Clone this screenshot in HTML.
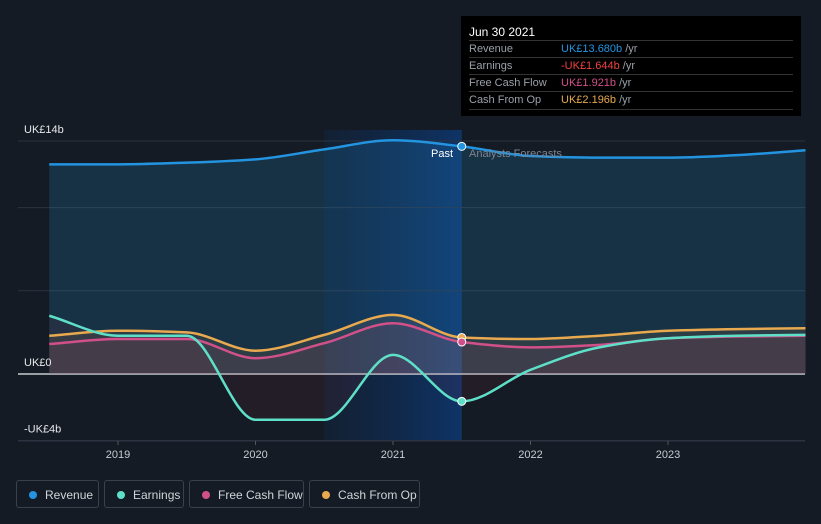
<!DOCTYPE html>
<html><head><meta charset="utf-8"><style>
body{margin:0;background:#151b24;font-family:"Liberation Sans",sans-serif;}
#wrap{position:relative;width:821px;height:524px;overflow:hidden;background:#151b24}
.leg{position:absolute;top:480px;height:28px;border:1px solid #3a414c;border-radius:3px;color:#d0d4da;font-size:12px;line-height:28px;box-sizing:border-box;padding-left:28px}
.leg i{position:absolute;left:12px;top:10px;width:8px;height:8px;border-radius:50%}
.tt{position:absolute;left:461px;top:16px;width:340px;height:100px;background:#000;color:#fff;font-size:11px}
.row{position:absolute;left:8px;width:324px;border-top:1px solid #333;height:17px;line-height:17px;color:#9aa0a8}
.row span{position:absolute;left:92px}
</style></head><body>
<div id="wrap">
<svg id="svg" width="821" height="524" style="position:absolute;left:0;top:0"></svg>
<div class="tt">
 <div style="position:absolute;left:8px;top:9px;font-size:12px">Jun 30 2021</div>
 <div class="row" style="top:24px">Revenue<span><b style="font-weight:normal;color:#2394e0">UK£13.680b</b> /yr</span></div>
 <div class="row" style="top:41px">Earnings<span><b style="font-weight:normal;color:#f0423f">-UK£1.644b</b> /yr</span></div>
 <div class="row" style="top:58px">Free Cash Flow<span><b style="font-weight:normal;color:#d2508a">UK£1.921b</b> /yr</span></div>
 <div class="row" style="top:75px;border-bottom:1px solid #333">Cash From Op<span><b style="font-weight:normal;color:#e8a94f">UK£2.196b</b> /yr</span></div>
</div>
<div class="leg" style="left:16px;width:83px"><i style="background:#2394e0"></i>Revenue</div>
<div class="leg" style="left:104px;width:80px"><i style="background:#5ee0c8"></i>Earnings</div>
<div class="leg" style="left:189px;width:115px"><i style="background:#d2508a"></i>Free Cash Flow</div>
<div class="leg" style="left:309px;width:111px"><i style="background:#e8a94f"></i>Cash From Op</div>
</div>
<script>
const years=[2018.5,2019,2019.5,2020,2020.5,2021,2021.5,2022,2022.5,2023,2023.5,2024];
const revenue=[12.6,12.6,12.7,12.9,13.5,14.05,13.68,13.1,13.0,13.0,13.15,13.45];
const earnings=[3.5,2.3,2.3,-2.75,-2.75,1.15,-1.644,0.25,1.6,2.15,2.3,2.35];
const fcf=[1.8,2.1,2.1,0.95,1.85,3.05,1.921,1.6,1.75,2.15,2.25,2.3];
const cfo=[2.3,2.6,2.5,1.4,2.35,3.55,2.196,2.1,2.3,2.6,2.7,2.75];
const yTicks=[{v:14,t:"UK£14b"},{v:0,t:"UK£0"},{v:-4,t:"-UK£4b"}];
const grid=[14,10,5,0,-4];
const xTicks=[2019,2020,2021,2022,2023];
const X=v=>393+(v-2021)*137.5, Y=v=>374-v*16.64;
const svg=document.getElementById('svg'),NS='http://www.w3.org/2000/svg';
function mk(t,a,p){const e=document.createElementNS(NS,t);for(const k in a)e.setAttribute(k,a[k]);(p||svg).appendChild(e);return e;}
function path(vals){const p=vals.map((v,i)=>[X(years[i]),Y(v)]);const n=p.length;
const d=[],m=[];for(let i=0;i<n-1;i++)d.push((p[i+1][1]-p[i][1])/(p[i+1][0]-p[i][0]));
for(let i=0;i<n;i++){if(i==0)m.push(d[0]);else if(i==n-1)m.push(d[n-2]);else if(d[i-1]*d[i]<=0)m.push(0);else m.push(2/(1/d[i-1]+1/d[i]));}
let s=`M${p[0][0]},${p[0][1]}`;
for(let i=0;i<n-1;i++){const h=(p[i+1][0]-p[i][0])/3;
s+=` C${p[i][0]+h},${p[i][1]+m[i]*h} ${p[i+1][0]-h},${p[i+1][1]-m[i+1]*h} ${p[i+1][0]},${p[i+1][1]}`;}return s;}
const defs=mk('defs',{});
const g=mk('linearGradient',{id:'pg',x1:0,y1:0,x2:1,y2:0},defs);
mk('stop',{offset:0,'stop-color':'#0d2c55','stop-opacity':0.3},g);mk('stop',{offset:1,'stop-color':'#0d3a78','stop-opacity':0.8},g);
let r=mk('rect',{x:X(2020.5),y:130,width:X(2021.5)-X(2020.5),height:311,fill:'url(#pg)'});

grid.forEach(v=>{const l=mk('line',{x1:18,x2:805,y1:Y(v),y2:Y(v),stroke:v==0?'#c8ccd2':'#2c3340','stroke-width':v==0?1.5:1});
});
const bl=mk('line',{x1:18,x2:805,y1:441,y2:441,stroke:'#2c3340'});
const series=[[revenue,'#2394e0','revenue'],[cfo,'#e8a94f','cash-from-op'],[fcf,'#d2508a','free-cash-flow'],[earnings,'#5ee0c8','earnings']];
const x0=X(years[0]),x1=X(years[years.length-1]);
series.forEach(([vals,c,n])=>{const f=mk('path',{d:path(vals)+` L${x1},${Y(0)} L${x0},${Y(0)} Z`,fill:n=='earnings'?'#a03040':c,'fill-opacity':n=='revenue'?0.18:0.1});
});
series.forEach(([vals,c,n])=>{const p=mk('path',{d:path(vals),fill:'none',stroke:c,'stroke-width':2.5});
});
series.forEach(([vals,c,n])=>{const d=mk('circle',{cx:X(2021.5),cy:Y(vals[6]),r:4,fill:c,stroke:'#fff','stroke-width':1});
});
yTicks.forEach(t=>{const e=mk('text',{x:24,y:Y(t.v)-8,fill:'#e6e8eb','font-size':11});e.textContent=t.t;
});
xTicks.forEach(v=>{mk('line',{x1:X(v),x2:X(v),y1:441,y2:445,stroke:'#555'});const e=mk('text',{x:X(v),y:458,fill:'#c8ccd2','font-size':11,'text-anchor':'middle'});e.textContent=v;
});
let t=mk('text',{x:453,y:157,fill:'#fff','font-size':11,'text-anchor':'end'});t.textContent='Past';
t=mk('text',{x:469,y:157,fill:'#7d848e','font-size':11});t.textContent='Analysts Forecasts';
</script>
</body></html>
